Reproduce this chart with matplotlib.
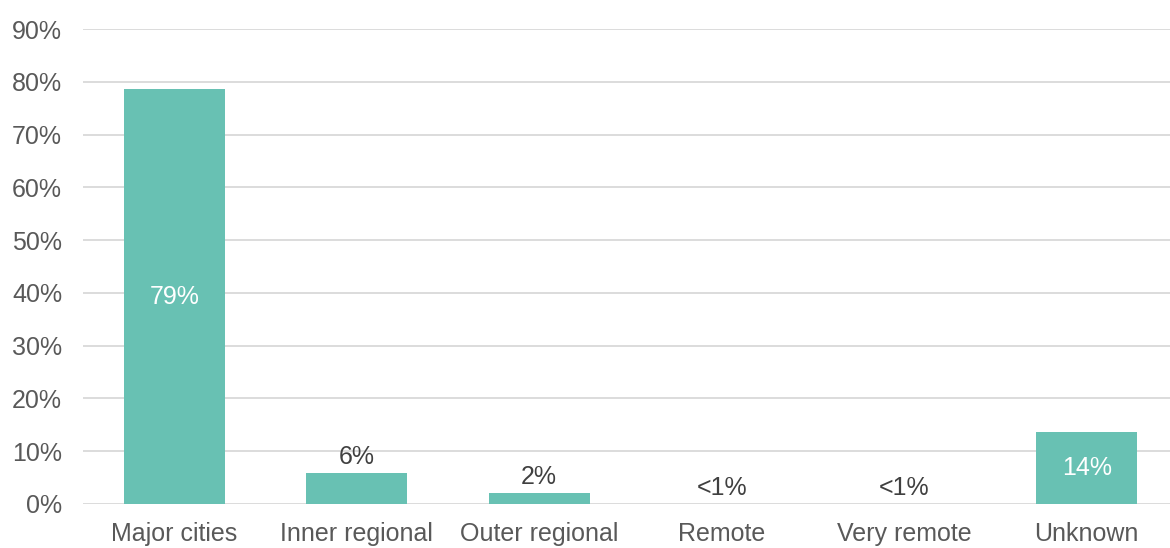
import matplotlib
matplotlib.use("Agg")
import matplotlib.pyplot as plt

# Data
categories = ["Major cities", "Inner regional", "Outer regional", "Remote", "Very remote", "Unknown"]
values = [78.6, 5.9, 2.1, 0.03, 0.02, 13.6]
labels = ["79%", "6%", "2%", "<1%", "<1%", "14%"]
inside = [True, False, False, False, False, True]

plt.rcParams["font.family"] = ["Liberation Sans", "DejaVu Sans"]

bar_color = "#68c1b3"
grid_color = "#d9d9d9"
tick_color = "#595959"
fs = 18

fig = plt.figure(figsize=(11.7, 5.48), dpi=100)
ax = fig.add_axes([0.0709, 0.0803, 0.9291, 0.8667])

x = range(len(categories))
bars = ax.bar(x, values, width=0.555, color=bar_color, zorder=3)

# value labels
for b, lab, ins in zip(bars, labels, inside):
    cx = b.get_x() + b.get_width() / 2
    h = b.get_height()
    if ins:
        ax.text(cx, h / 2, lab, ha="center", va="center", color="white", fontsize=fs, zorder=4)
    else:
        ax.annotate(lab, (cx, h), xytext=(0, 3), textcoords="offset points",
                    ha="center", va="bottom", color="#404040", fontsize=fs, zorder=4)

ax.set_ylim(0, 90)
ax.set_xlim(-0.5, 5.456)
ax.set_yticks(range(0, 91, 10))
ax.set_yticklabels([f"{v}%" for v in range(0, 91, 10)])
ax.set_xticks(list(x))
ax.set_xticklabels(categories)

ax.yaxis.grid(True, color=grid_color, linewidth=1.3, zorder=0)
ax.set_axisbelow(True)
for s in ax.spines.values():
    s.set_visible(False)
ax.tick_params(axis="both", length=0, labelsize=fs, labelcolor=tick_color)
ax.tick_params(axis="y", pad=15)
ax.tick_params(axis="x", pad=13)

fig.savefig("out.png", dpi=100)
